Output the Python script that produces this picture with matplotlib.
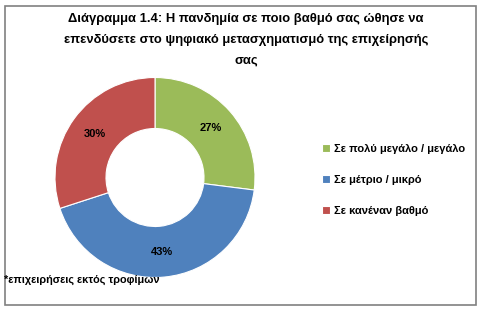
import matplotlib.pyplot as plt
from matplotlib.patches import Rectangle

title = ("Διάγραμμα 1.4: Η πανδημία σε ποιο βαθμό σας ώθησε να\n"
         "επενδύσετε στο ψηφιακό μετασχηματισμό της επιχείρησής\nσας")
labels = ["Σε πολύ μεγάλο / μεγάλο", "Σε μέτριο / μικρό", "Σε κανέναν βαθμό"]
values = [27, 43, 30]
colors = ["#9BBB59", "#4F81BD", "#C0504D"]
note = "*επιχειρήσεις εκτός τροφίμων"

plt.rcParams['font.family'] = ['Liberation Sans', 'DejaVu Sans']

W, H = 482, 311
fig = plt.figure(figsize=(W / 100, H / 100), dpi=100)

# outer frame
fig.patches.append(Rectangle((5 / W, 6 / H), 471 / W, 299 / H, transform=fig.transFigure,
                             fill=False, edgecolor='#808080', linewidth=1.2))

fig.text(246 / W, 1 - 13 / H, title, ha='center', va='top', fontsize=9.4,
         fontweight='bold', linespacing=1.95)

# donut
ax = fig.add_axes([55 / W, 33.5 / H, 200 / W, 200 / H])
wedges, texts, autotexts = ax.pie(values, colors=colors, startangle=90, counterclock=False,
                                  autopct='%d%%', pctdistance=0.745,
                                  wedgeprops=dict(width=0.51, edgecolor='white', linewidth=0.8),
                                  textprops=dict(fontsize=8, fontweight='bold'))
ax.set_xlim(-1, 1)
ax.set_ylim(-1, 1)
ax.set_aspect('equal')

fig.legend(wedges, labels, loc='upper left', bbox_to_anchor=(312 / W, 1 - 134 / H),
           frameon=False, prop=dict(size=8, weight='bold'),
           handlelength=0.7, handleheight=0.7, handletextpad=0.4, labelspacing=1.9)

fig.text(4 / W, 1 - 280 / H, note, ha='left', va='center', fontsize=7.8,
         fontweight='bold')

fig.savefig('out.png', dpi=100)
